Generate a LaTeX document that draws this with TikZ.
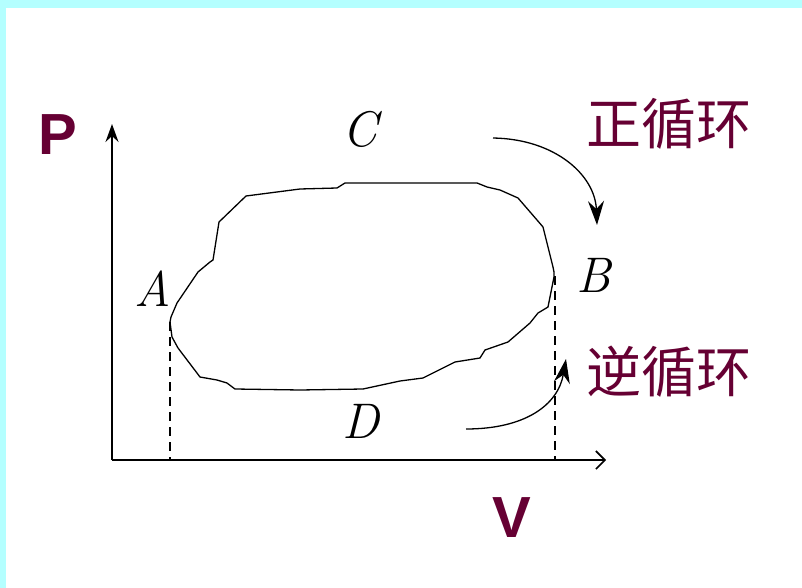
\documentclass[tikz,border=0pt]{standalone}
\usepackage{fontspec}
\newfontfamily\cjk{Noto Sans CJK SC}
\newfontfamily\arialf{Liberation Sans}
\usetikzlibrary{arrows.meta}
\definecolor{framecyan}{RGB}{180,255,255}
\definecolor{maroon}{RGB}{102,0,51}
\tikzset{
  axisline/.style={line width=1.6pt, black},
  cycleline/.style={line width=1.3pt, black, line join=round},
  guideline/.style={line width=1.3pt, black, dash pattern=on 9pt off 6pt},
  turnarrow/.style={line width=1.3pt, black, -{Stealth[length=24pt,width=16pt,inset=8pt]}},
  ptlabel/.style={inner sep=0pt, font=\itshape\fontsize{50}{60}\selectfont},
  axislabel/.style={inner sep=0pt, text=maroon, font=\arialf\bfseries\fontsize{58}{66}\selectfont},
  cjklabel/.style={inner sep=0pt, text=maroon, font=\cjk\fontsize{55}{64}\selectfont}
}
\begin{document}
\begin{tikzpicture}[x=1pt,y=-1pt]
\useasboundingbox (0,0) rectangle (802,588);
\fill[white] (0,0) rectangle (802,588);
\fill[framecyan] (0,0) rectangle (802,8);
\fill[framecyan] (0,0) rectangle (6,588);

% axes
\coordinate (O) at (112,460);
\coordinate (Ptop) at (112,124);
\coordinate (Vend) at (606,460);
\draw[axisline,-{Stealth[length=18pt,width=13pt,inset=6pt]}] (O) -- (Ptop);
\draw[axisline,-{Straight Barb[length=9pt,width=18pt]}] (O) -- (Vend);

% states
\coordinate (Apt) at (170,322);
\coordinate (Bpt) at (554,272);
\coordinate (Abase) at (170,460);
\coordinate (Bbase) at (555,460);
\draw[guideline] (Apt) -- (Abase);
\draw[guideline] (555,276) -- (Bbase);

% cycle
\draw[cycleline] (Apt)
  -- (171,317) -- (177,303) -- (198,272) -- (210,262) -- (213,260)
  -- (219,222) -- (246,196) -- (300,189) -- (337,188) -- (345,183)
  -- (477,183) -- (487,187) -- (500,190) -- (518,198) -- (537,220)
  -- (543,227) -- (553,267) -- (Bpt) -- (554,277) -- (548,307)
  -- (538,313) -- (530,323) -- (508,342) -- (485,350) -- (480,358)
  -- (455,362) -- (423,378) -- (400,381) -- (363,389) -- (300,390)
  -- (235,389) -- (227,383) -- (217,380) -- (200,377) -- (178,348)
  -- (172,337) -- cycle;

% labels
\node[ptlabel] (labA) at (153,289) {A};
\node[ptlabel] (labB) at (594,275) {B};
\node[ptlabel] (labC) at (360,129) {C};
\node[ptlabel] (labD) at (361,421) {D};
\node[axislabel] (labP) at (58,135) {P};
\node[axislabel] (labV) at (512,518) {V};
\node[cjklabel, anchor=west] (fwd) at (586,124) {正循环};
\node[cjklabel, anchor=west] (rev) at (586,372) {逆循环};

% direction arrows
\coordinate (f1) at (493,138);
\coordinate (f2) at (597,225);
\draw[turnarrow] (f1) .. controls (555,139) and (595,175) .. (f2);
\coordinate (r1) at (466,429);
\coordinate (r2) at (566,359);
\draw[turnarrow] (r1) .. controls (525,429) and (558,405) .. (r2);
\end{tikzpicture}
\end{document}
